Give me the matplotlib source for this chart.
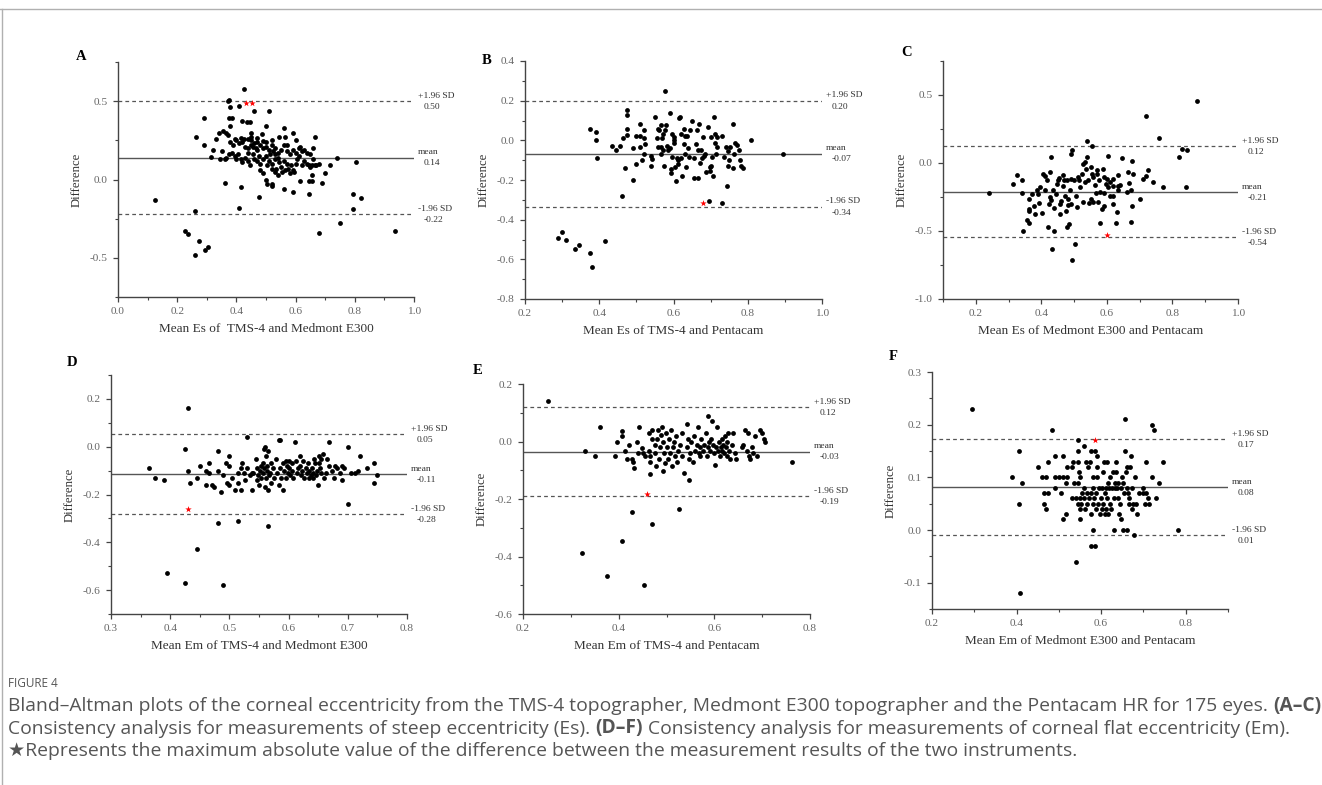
import matplotlib
matplotlib.use('Agg')
import matplotlib.pyplot as plt
from matplotlib.lines import Line2D
from matplotlib.ticker import MultipleLocator, FormatStrFormatter

plt.rcParams['font.family'] = ['Liberation Serif', 'DejaVu Serif']
plt.rcParams['axes.unicode_minus'] = True

W, H = 1322, 785

# ---------------- data ----------------
# A: Es, TMS-4 vs Medmont E300
a_pts = [(0.125, -0.13), (0.26, -0.20), (0.225, -0.33), (0.235, -0.35), (0.275, -0.39),
         (0.26, -0.48), (0.295, -0.45), (0.305, -0.43), (0.36, -0.02), (0.41, -0.18),
         (0.415, -0.05), (0.475, -0.11), (0.68, -0.34), (0.75, -0.28), (0.795, -0.19),
         (0.795, -0.09), (0.82, -0.12), (0.935, -0.33), (0.805, 0.11), (0.74, 0.14),
         (0.70, 0.04), (0.715, 0.09), (0.69, -0.02), (0.645, -0.09), (0.59, -0.08),
         (0.56, -0.06), (0.615, -0.01), (0.645, -0.01), (0.655, -0.01), (0.52, -0.04),
         (0.52, -0.03), (0.505, -0.03), (0.50, 0.00), (0.49, 0.04),
         (0.425, 0.575), (0.37, 0.50), (0.375, 0.51), (0.38, 0.46), (0.41, 0.47), (0.46, 0.44),
         (0.51, 0.44), (0.29, 0.39), (0.375, 0.39), (0.385, 0.39), (0.42, 0.375), (0.435, 0.37),
         (0.445, 0.37), (0.38, 0.34), (0.50, 0.34), (0.56, 0.33), (0.355, 0.31), (0.34, 0.30),
         (0.365, 0.30), (0.37, 0.285), (0.59, 0.30), (0.45, 0.30), (0.485, 0.29), (0.265, 0.27),
         (0.33, 0.26), (0.395, 0.26), (0.415, 0.265), (0.425, 0.26), (0.45, 0.27), (0.47, 0.265),
         (0.49, 0.245), (0.52, 0.255), (0.545, 0.27), (0.565, 0.27), (0.60, 0.255), (0.665, 0.27),
         (0.29, 0.22), (0.32, 0.19), (0.35, 0.18), (0.315, 0.145), (0.345, 0.13),
         (0.38, 0.24), (0.39, 0.22), (0.40, 0.25), (0.41, 0.23), (0.42, 0.24), (0.43, 0.21),
         (0.44, 0.20), (0.45, 0.22), (0.455, 0.21), (0.46, 0.23), (0.465, 0.20), (0.47, 0.19),
         (0.48, 0.22), (0.49, 0.20), (0.50, 0.21), (0.51, 0.19), (0.52, 0.22), (0.525, 0.18),
         (0.53, 0.20), (0.54, 0.17), (0.55, 0.19), (0.56, 0.22), (0.57, 0.18), (0.58, 0.16),
         (0.59, 0.19), (0.60, 0.17), (0.61, 0.20), (0.615, 0.21), (0.62, 0.18), (0.63, 0.19),
         (0.64, 0.17), (0.65, 0.16), (0.66, 0.20), (0.375, 0.16), (0.385, 0.17), (0.395, 0.15),
         (0.405, 0.16), (0.415, 0.13), (0.42, 0.11), (0.43, 0.14), (0.44, 0.12), (0.445, 0.09),
         (0.455, 0.16), (0.46, 0.13), (0.47, 0.12), (0.475, 0.15), (0.48, 0.10), (0.49, 0.13),
         (0.50, 0.15), (0.505, 0.09), (0.51, 0.12), (0.515, 0.16), (0.52, 0.10), (0.53, 0.13),
         (0.535, 0.07), (0.54, 0.14), (0.545, 0.11), (0.55, 0.08), (0.555, 0.05), (0.56, 0.12),
         (0.565, 0.06), (0.57, 0.10), (0.575, 0.07), (0.58, 0.04), (0.585, 0.09), (0.59, 0.06),
         (0.595, 0.05), (0.60, 0.10), (0.605, 0.13), (0.61, 0.15), (0.62, 0.09), (0.63, 0.12),
         (0.64, 0.10), (0.645, 0.09), (0.65, 0.08), (0.655, 0.09), (0.66, 0.13), (0.665, 0.09),
         (0.67, 0.09), (0.68, 0.10), (0.655, 0.03), (0.54, 0.03), (0.53, 0.05), (0.52, 0.07),
         (0.40, 0.13), (0.36, 0.13), (0.365, 0.14), (0.47, 0.24), (0.50, 0.24), (0.44, 0.26),
         (0.45, 0.25), (0.53, 0.16), (0.57, 0.22), (0.48, 0.06), (0.44, 0.17)]
a_star = [(0.434, 0.488), (0.454, 0.488)]
a_lines = [0.50, 0.14, -0.22]
a_vals = ['0.50', '0.14', '-0.22']

# B: Es, TMS-4 vs Pentacam
b_pts = [(0.578, 0.25), (0.30, -0.46), (0.29, -0.49), (0.31, -0.50), (0.336, -0.547),
         (0.346, -0.53), (0.375, -0.567), (0.38, -0.637), (0.416, -0.507), (0.46, -0.28),
         (0.49, -0.20), (0.47, -0.14), (0.395, -0.09), (0.39, 0.0), (0.39, 0.04), (0.375, 0.055),
         (0.435, -0.03), (0.445, -0.05), (0.455, -0.03), (0.465, 0.01), (0.475, 0.025),
         (0.475, 0.055), (0.475, 0.13), (0.475, 0.153), (0.49, -0.037), (0.50, 0.02), (0.50, -0.12),
         (0.51, 0.08), (0.51, 0.02), (0.51, -0.033), (0.515, -0.10), (0.52, -0.067), (0.52, 0.013),
         (0.52, 0.053), (0.523, -0.02), (0.54, -0.127), (0.54, -0.077), (0.543, -0.093),
         (0.55, 0.12), (0.555, 0.013), (0.557, 0.057), (0.557, -0.033), (0.56, 0.05),
         (0.565, 0.077), (0.566, -0.07), (0.567, -0.033), (0.569, 0.01), (0.573, 0.033),
         (0.575, -0.13), (0.58, 0.077), (0.582, -0.03), (0.59, 0.14), (0.59, -0.04),
         (0.592, -0.143), (0.594, -0.167), (0.596, -0.083), (0.597, 0.033), (0.60, 0.003),
         (0.602, -0.012), (0.603, -0.133), (0.606, -0.203), (0.609, -0.088), (0.611, -0.117),
         (0.616, 0.112), (0.618, 0.12), (0.62, 0.03), (0.621, -0.088), (0.623, -0.178),
         (0.627, -0.017), (0.63, 0.02), (0.632, -0.067), (0.634, -0.133), (0.636, 0.023),
         (0.64, -0.037), (0.643, -0.083), (0.65, 0.10), (0.654, -0.09), (0.656, -0.188),
         (0.66, -0.017), (0.664, 0.05), (0.666, -0.188), (0.667, -0.05), (0.67, 0.08),
         (0.672, -0.113), (0.674, -0.047), (0.676, -0.09), (0.68, 0.017), (0.683, -0.078),
         (0.685, -0.067), (0.688, -0.16), (0.693, 0.065), (0.695, -0.307), (0.697, -0.133),
         (0.699, -0.153), (0.70, 0.017), (0.702, -0.13), (0.705, -0.083), (0.707, -0.178),
         (0.71, 0.12), (0.711, -0.013), (0.713, 0.033), (0.715, -0.07), (0.717, -0.033),
         (0.718, 0.017), (0.73, -0.317), (0.731, 0.02), (0.735, -0.083), (0.742, -0.033),
         (0.744, -0.228), (0.746, -0.127), (0.748, -0.053), (0.75, -0.10), (0.753, -0.033),
         (0.759, 0.08), (0.76, -0.14), (0.764, -0.07), (0.767, -0.012), (0.771, -0.025),
         (0.776, -0.05), (0.78, -0.10), (0.783, -0.127), (0.787, -0.14), (0.81, 0.0),
         (0.895, -0.07), (0.571, -0.047), (0.577, 0.05), (0.586, -0.05), (0.60, 0.017),
         (0.613, -0.10), (0.627, 0.057), (0.645, 0.05)]
b_star = [(0.68, -0.317)]
b_lines = [0.20, -0.067, -0.335]
b_vals = ['0.20', '-0.07', '-0.34']

# C: Es, Medmont E300 vs Pentacam
c_pts = [(0.875, 0.458), (0.72, 0.345), (0.76, 0.185), (0.83, 0.103), (0.845, 0.094),
         (0.82, 0.044), (0.84, -0.18), (0.77, -0.18), (0.74, -0.138), (0.725, -0.05),
         (0.72, -0.094), (0.71, -0.118), (0.70, -0.264), (0.678, 0.017), (0.675, -0.20),
         (0.676, -0.315), (0.675, -0.433), (0.68, -0.079), (0.663, -0.069), (0.667, -0.148),
         (0.645, 0.034), (0.633, -0.089), (0.634, -0.17), (0.633, -0.20), (0.627, -0.438),
         (0.63, -0.36), (0.62, -0.30), (0.62, -0.24), (0.604, 0.052), (0.61, -0.14),
         (0.603, -0.18), (0.598, -0.153), (0.589, -0.042), (0.59, -0.222), (0.585, -0.34),
         (0.58, -0.443), (0.577, -0.123), (0.569, -0.049), (0.574, -0.288), (0.567, -0.222),
         (0.558, -0.103), (0.554, -0.079), (0.554, 0.123), (0.539, 0.16), (0.54, 0.044),
         (0.536, -0.042), (0.533, -0.14), (0.528, -0.005), (0.524, -0.079), (0.516, -0.128),
         (0.51, -0.325), (0.503, -0.596), (0.494, -0.714), (0.49, 0.069), (0.495, 0.094),
         (0.492, -0.12), (0.486, -0.20), (0.482, -0.264), (0.477, -0.473), (0.483, -0.448),
         (0.472, -0.239), (0.474, -0.35), (0.465, -0.172), (0.461, -0.276), (0.457, -0.374),
         (0.455, -0.108), (0.447, -0.153), (0.444, -0.227), (0.44, -0.33), (0.438, -0.50),
         (0.434, -0.636), (0.429, 0.044), (0.426, -0.064), (0.426, -0.251), (0.423, -0.30),
         (0.421, -0.468), (0.411, -0.20), (0.412, -0.099), (0.406, -0.079), (0.401, -0.367),
         (0.396, -0.177), (0.392, -0.296), (0.382, -0.374), (0.391, -0.227), (0.372, -0.227),
         (0.363, -0.264), (0.362, -0.337), (0.361, -0.35), (0.355, -0.419), (0.363, -0.438),
         (0.345, -0.498), (0.34, -0.123), (0.325, -0.089), (0.315, -0.153), (0.34, -0.222),
         (0.239, -0.222), (0.528, -0.288), (0.518, -0.177), (0.506, -0.239), (0.543, -0.128),
         (0.55, -0.264), (0.565, -0.165), (0.58, -0.214), (0.59, -0.313), (0.61, -0.239),
         (0.533, 0.007), (0.513, -0.103), (0.467, -0.091), (0.477, -0.128), (0.452, -0.128),
         (0.417, -0.128), (0.437, -0.20), (0.386, -0.20), (0.378, -0.313), (0.457, -0.30),
         (0.492, -0.30), (0.545, -0.296), (0.558, -0.288), (0.60, -0.116), (0.62, -0.116),
         (0.64, -0.165), (0.66, -0.214), (0.50, -0.128), (0.47, -0.128), (0.48, -0.31),
         (0.43, -0.27), (0.57, -0.08), (0.59, -0.10), (0.62, -0.17), (0.55, -0.03)]
c_star = [(0.60, -0.527)]
c_lines = [0.126, -0.214, -0.547]
c_vals = ['0.12', '-0.21', '-0.54']

# D: Em, TMS-4 vs Medmont E300
d_pts = [(0.43, 0.16), (0.425, -0.01), (0.43, -0.10), (0.364, -0.09), (0.375, -0.13),
         (0.39, -0.14), (0.434, -0.15), (0.445, -0.13), (0.45, -0.08), (0.46, -0.10),
         (0.465, -0.07), (0.46, -0.16), (0.47, -0.16), (0.474, -0.17), (0.465, -0.11),
         (0.48, -0.02), (0.48, -0.10), (0.485, -0.19), (0.49, -0.12), (0.495, -0.07),
         (0.50, -0.04), (0.50, -0.16), (0.496, -0.15), (0.50, -0.08), (0.505, -0.13),
         (0.51, -0.18), (0.514, -0.11), (0.515, -0.15), (0.519, -0.18), (0.519, -0.09),
         (0.522, -0.07), (0.526, -0.14), (0.524, -0.11), (0.53, 0.04), (0.529, -0.09),
         (0.534, -0.12), (0.538, -0.18), (0.538, -0.11), (0.54, -0.11), (0.545, -0.05),
         (0.546, -0.09), (0.547, -0.14), (0.549, -0.12), (0.55, -0.16), (0.552, -0.10),
         (0.553, -0.08), (0.554, -0.13), (0.556, -0.07), (0.557, -0.11), (0.559, -0.01),
         (0.559, -0.09), (0.56, -0.17), (0.561, -0.04), (0.562, -0.13), (0.563, -0.10),
         (0.564, -0.08), (0.565, -0.18), (0.566, -0.02), (0.567, -0.12), (0.569, -0.11),
         (0.57, -0.07), (0.571, -0.15), (0.574, -0.09), (0.576, -0.13), (0.578, -0.05),
         (0.58, -0.11), (0.583, -0.16), (0.586, -0.09), (0.584, 0.03), (0.587, -0.13),
         (0.59, -0.18), (0.591, -0.07), (0.593, -0.10), (0.595, -0.06), (0.596, -0.13),
         (0.597, -0.08), (0.599, -0.11), (0.60, -0.06), (0.601, -0.09), (0.603, -0.12),
         (0.605, -0.07), (0.606, -0.10), (0.608, -0.13), (0.61, 0.02), (0.612, -0.06),
         (0.614, -0.11), (0.616, -0.09), (0.619, -0.08), (0.62, -0.04), (0.621, -0.12),
         (0.622, -0.10), (0.624, -0.06), (0.626, -0.13), (0.629, -0.09), (0.631, -0.11),
         (0.633, -0.07), (0.634, -0.13), (0.635, -0.10), (0.638, -0.12), (0.64, -0.09),
         (0.641, -0.13), (0.642, -0.11), (0.643, -0.05), (0.645, -0.07), (0.647, -0.12),
         (0.648, -0.10), (0.65, -0.16), (0.651, -0.07), (0.652, -0.04), (0.653, -0.09),
         (0.654, -0.05), (0.655, -0.11), (0.658, -0.03), (0.66, -0.13), (0.664, -0.11),
         (0.665, -0.05), (0.668, 0.02), (0.669, -0.08), (0.673, -0.10), (0.676, -0.13),
         (0.678, -0.08), (0.682, -0.09), (0.686, -0.11), (0.69, -0.08), (0.69, -0.14),
         (0.693, -0.09), (0.70, 0.0), (0.70, -0.24), (0.705, -0.11), (0.713, -0.11),
         (0.718, -0.10), (0.72, -0.04), (0.733, -0.09), (0.745, -0.07), (0.745, -0.15),
         (0.75, -0.12), (0.48, -0.32), (0.515, -0.31), (0.565, -0.33), (0.445, -0.43),
         (0.395, -0.53), (0.425, -0.57), (0.49, -0.58), (0.56, 0.0), (0.585, 0.03)]
d_star = [(0.43, -0.26)]
d_lines = [0.053, -0.115, -0.283]
d_vals = ['0.05', '-0.11', '-0.28']

# E: Em, TMS-4 vs Pentacam
e_pts = [(0.252, 0.14), (0.329, -0.032), (0.35, -0.052), (0.36, 0.05), (0.392, -0.052),
         (0.397, 0.0), (0.407, 0.038), (0.407, 0.019), (0.413, -0.032), (0.417, -0.061),
         (0.422, -0.012), (0.427, -0.061), (0.431, -0.072), (0.432, -0.092), (0.439, 0.0),
         (0.44, -0.041), (0.443, 0.05), (0.448, -0.021), (0.451, -0.041), (0.455, -0.052),
         (0.464, 0.03), (0.464, -0.032), (0.465, -0.052), (0.466, -0.073), (0.465, -0.112),
         (0.469, 0.01), (0.47, 0.04), (0.476, -0.011), (0.476, -0.041), (0.479, -0.084),
         (0.481, 0.01), (0.483, 0.04), (0.485, -0.061), (0.486, -0.02), (0.488, 0.021),
         (0.49, 0.05), (0.492, 0.0), (0.493, -0.103), (0.495, -0.041), (0.496, -0.075),
         (0.499, 0.03), (0.50, -0.02), (0.503, -0.061), (0.506, 0.01), (0.507, -0.041),
         (0.51, 0.04), (0.512, -0.084), (0.514, -0.02), (0.515, 0.0), (0.517, -0.052),
         (0.52, 0.02), (0.521, -0.071), (0.524, -0.032), (0.528, -0.011), (0.532, 0.03),
         (0.533, -0.052), (0.536, -0.111), (0.542, 0.061), (0.543, -0.02), (0.545, 0.01),
         (0.547, -0.061), (0.549, -0.041), (0.547, -0.133), (0.552, 0.0), (0.556, -0.072),
         (0.558, 0.02), (0.559, -0.032), (0.563, -0.011), (0.565, 0.05), (0.567, -0.041),
         (0.57, -0.02), (0.571, -0.052), (0.573, 0.01), (0.577, -0.032), (0.579, -0.011),
         (0.582, 0.03), (0.584, -0.052), (0.586, -0.02), (0.587, 0.09), (0.589, 0.0),
         (0.591, -0.032), (0.594, 0.01), (0.596, 0.07), (0.598, -0.011), (0.60, -0.041),
         (0.601, -0.083), (0.603, -0.02), (0.606, 0.05), (0.608, -0.032), (0.61, 0.0),
         (0.612, -0.052), (0.613, -0.02), (0.615, 0.01), (0.617, -0.032), (0.619, -0.011),
         (0.621, -0.041), (0.623, 0.02), (0.624, -0.02), (0.626, -0.052), (0.627, 0.0),
         (0.629, 0.03), (0.631, -0.032), (0.633, -0.061), (0.636, -0.011), (0.64, 0.03),
         (0.643, -0.041), (0.645, -0.061), (0.657, -0.02), (0.66, -0.011), (0.664, 0.04),
         (0.668, -0.032), (0.67, 0.03), (0.672, -0.052), (0.675, -0.061), (0.678, -0.02),
         (0.68, -0.041), (0.685, 0.02), (0.69, -0.052), (0.695, 0.04), (0.70, 0.03),
         (0.703, 0.01), (0.706, 0.0), (0.762, -0.072), (0.427, -0.244), (0.469, -0.286),
         (0.526, -0.235), (0.407, -0.346), (0.324, -0.388), (0.376, -0.468), (0.454, -0.499)]
e_star = [(0.46, -0.182)]
e_lines = [0.12, -0.035, -0.19]
e_vals = ['0.12', '-0.03', '-0.19']

# F: Em, Medmont E300 vs Pentacam
f_pts = [(0.294, 0.23), (0.405, 0.15), (0.389, 0.10), (0.414, 0.09), (0.405, 0.05),
         (0.45, 0.12), (0.46, 0.10), (0.47, 0.10), (0.475, 0.13), (0.464, 0.07), (0.475, 0.07),
         (0.464, 0.05), (0.47, 0.04), (0.484, 0.19), (0.49, 0.10), (0.49, 0.08), (0.49, 0.14),
         (0.50, 0.10), (0.505, 0.07), (0.51, 0.10), (0.51, 0.14), (0.51, 0.02), (0.516, 0.03),
         (0.516, 0.09), (0.52, 0.10), (0.52, 0.12), (0.53, 0.12), (0.53, 0.06), (0.534, 0.13),
         (0.536, 0.09), (0.54, 0.06), (0.54, -0.06), (0.545, 0.17), (0.545, 0.13), (0.545, 0.15),
         (0.545, 0.09), (0.545, 0.05), (0.547, 0.11), (0.549, 0.06), (0.55, 0.10), (0.55, 0.02),
         (0.551, 0.04), (0.553, 0.05), (0.555, 0.07), (0.56, 0.06), (0.56, 0.08), (0.561, 0.04),
         (0.56, 0.16), (0.565, 0.13), (0.566, 0.05), (0.567, 0.07), (0.57, 0.12), (0.571, 0.06),
         (0.574, 0.13), (0.575, 0.07), (0.575, 0.03), (0.577, 0.15), (0.577, -0.03), (0.58, 0.05),
         (0.58, 0.10), (0.58, 0.0), (0.581, 0.08), (0.583, 0.06), (0.585, 0.15), (0.585, -0.03),
         (0.587, 0.04), (0.588, 0.07), (0.59, 0.10), (0.59, 0.12), (0.591, 0.14), (0.593, 0.05),
         (0.594, 0.08), (0.597, 0.03), (0.60, 0.06), (0.601, 0.04), (0.602, 0.08), (0.604, 0.05),
         (0.605, 0.11), (0.607, 0.13), (0.609, 0.03), (0.61, 0.07), (0.611, 0.08), (0.612, 0.04),
         (0.613, 0.06), (0.615, 0.13), (0.616, 0.03), (0.617, 0.09), (0.618, 0.08), (0.62, 0.10),
         (0.621, 0.05), (0.623, 0.04), (0.625, 0.08), (0.628, 0.11), (0.63, 0.06), (0.631, 0.0),
         (0.632, 0.08), (0.633, 0.09), (0.635, 0.13), (0.636, 0.11), (0.637, 0.08), (0.639, 0.06),
         (0.64, 0.09), (0.643, 0.03), (0.645, 0.05), (0.647, 0.08), (0.648, 0.02), (0.65, 0.10),
         (0.651, 0.0), (0.652, 0.09), (0.655, 0.07), (0.656, 0.21), (0.657, 0.15), (0.659, 0.11),
         (0.66, 0.0), (0.661, 0.08), (0.662, 0.12), (0.664, 0.07), (0.665, 0.05), (0.667, 0.06),
         (0.668, 0.12), (0.67, 0.14), (0.672, 0.04), (0.674, 0.08), (0.675, 0.05), (0.677, -0.01),
         (0.68, 0.10), (0.683, 0.05), (0.685, 0.03), (0.69, 0.07), (0.698, 0.07), (0.70, 0.08),
         (0.704, 0.05), (0.705, 0.13), (0.706, 0.07), (0.71, 0.06), (0.713, 0.05), (0.72, 0.10),
         (0.72, 0.20), (0.726, 0.19), (0.73, 0.06), (0.736, 0.09), (0.747, 0.13), (0.782, 0.0),
         (0.407, -0.12)]
f_star = [(0.586, 0.17)]
f_lines = [0.173, 0.081, -0.01]
f_vals = ['0.17', '0.08', '0.01']

xlabels = ['Mean Es of  TMS-4 and Medmont E300', 'Mean Es of TMS-4 and Pentacam',
           'Mean Es of Medmont E300 and Pentacam', 'Mean Em of TMS-4 and Medmont E300',
           'Mean Em of TMS-4 and Pentacam', 'Mean Em of Medmont E300 and Pentacam']

caption_title = 'FIGURE 4'
caption_lines = [
    [('Bland\u2013Altman plots of the corneal eccentricity from the TMS-4 topographer, Medmont E300 '
      'topographer and the Pentacam HR for 175 eyes.', 'normal'), ('(A\u2013C)', 'bold')],
    [('Consistency analysis for measurements of steep eccentricity (Es).', 'normal'),
     ('(D\u2013F)', 'bold'),
     ('Consistency analysis for measurements of corneal flat eccentricity (Em).', 'normal')],
    [('\u2605Represents the maximum absolute value of the difference between the measurement '
      'results of the two instruments.', 'normal')],
]

fig = plt.figure(figsize=(W / 100, H / 100), dpi=100)


def px_rect(left, top, right, bottom):
    return [left / W, 1 - bottom / H, (right - left) / W, (bottom - top) / H]


def panel(rect, letter, letter_xy, pts, star, lines, vals, xlim, ylim, xmaj, ymaj, ymin, xlabel):
    ax = fig.add_axes(rect)
    xs = [p[0] for p in pts]
    ys = [p[1] for p in pts]
    ax.scatter(xs, ys, s=12, c='black', linewidths=0, zorder=3)
    ax.scatter([p[0] for p in star], [p[1] for p in star], s=24, c='red', marker='*',
               linewidths=0, zorder=4)
    up, mean, low = lines
    ax.axhline(mean, color='#555555', lw=1.0, zorder=2)
    ax.axhline(up, color='#555555', lw=0.9, ls=(0, (3, 2.5)), zorder=2)
    ax.axhline(low, color='#555555', lw=0.9, ls=(0, (3, 2.5)), zorder=2)
    tr = ax.get_yaxis_transform()
    pairs = [('+1.96 SD', vals[0], up), ('mean', vals[1], mean), ('-1.96 SD', vals[2], low)]
    for top, bot, v in pairs:
        ax.annotate(top, xy=(1.0, v), xycoords=tr, xytext=(3, 3.8), textcoords='offset points',
                    fontsize=6.8, color='#333333', va='center', ha='left', annotation_clip=False)
        ax.annotate(bot, xy=(1.0, v), xycoords=tr, xytext=(7, -4.2), textcoords='offset points',
                    fontsize=6.8, color='#333333', va='center', ha='left', annotation_clip=False)
    ax.set_xlim(*xlim)
    ax.set_ylim(*ylim)
    ax.xaxis.set_major_locator(MultipleLocator(xmaj))
    ax.xaxis.set_minor_locator(MultipleLocator(xmaj / 2))
    ax.yaxis.set_major_locator(MultipleLocator(ymaj))
    ax.yaxis.set_minor_locator(MultipleLocator(ymin))
    ax.xaxis.set_major_formatter(FormatStrFormatter('%.1f'))
    ax.yaxis.set_major_formatter(FormatStrFormatter('%.1f'))
    for s in ('top', 'right'):
        ax.spines[s].set_visible(False)
    for s in ('left', 'bottom'):
        ax.spines[s].set_color('#444444')
        ax.spines[s].set_linewidth(1.0)
    ax.tick_params(which='major', direction='out', length=3.5, width=0.9, colors='#444444',
                   labelsize=8.2, labelcolor='#666666', pad=4)
    ax.tick_params(which='minor', direction='out', length=2, width=0.8, colors='#444444')
    ax.set_ylabel('Difference', fontsize=9.2, color='#333333', labelpad=5)
    ax.set_xlabel(xlabel, fontsize=9.5, color='#333333', labelpad=5)
    fig.text(letter_xy[0] / W, 1 - letter_xy[1] / H, letter, fontsize=10.5, fontweight='bold',
             ha='center', va='center')
    return ax


panel(px_rect(118, 62, 414, 297), 'A', (81, 56), a_pts, a_star, a_lines, a_vals,
      (0.0, 1.0), (-0.75, 0.75), 0.2, 0.5, 0.25, xlabels[0])
panel(px_rect(525, 61, 822, 299), 'B', (487, 60), b_pts, b_star, b_lines, b_vals,
      (0.2, 1.0), (-0.8, 0.4), 0.2, 0.2, 0.1, xlabels[1])
panel(px_rect(943, 61, 1238, 299), 'C', (907, 53), c_pts, c_star, c_lines, c_vals,
      (0.1, 1.0), (-1.0, 0.75), 0.2, 0.5, 0.25, xlabels[2])
panel(px_rect(111, 375, 407, 614), 'D', (72, 362), d_pts, d_star, d_lines, d_vals,
      (0.3, 0.8), (-0.7, 0.3), 0.1, 0.2, 0.1, xlabels[3])
panel(px_rect(523, 384, 810, 614), 'E', (478, 370), e_pts, e_star, e_lines, e_vals,
      (0.2, 0.8), (-0.6, 0.2), 0.2, 0.2, 0.1, xlabels[4])
panel(px_rect(932, 372, 1228, 609), 'F', (893, 356), f_pts, f_star, f_lines, f_vals,
      (0.2, 0.9), (-0.15, 0.3), 0.2, 0.1, 0.05, xlabels[5])

# frame lines of the figure box
fig.add_artist(Line2D([0, 1], [1 - 9 / H, 1 - 9 / H], color='#b0b0b0', lw=1.0,
                      transform=fig.transFigure))
fig.add_artist(Line2D([2 / W, 2 / W], [0, 1 - 9 / H], color='#b0b0b0', lw=1.0,
                      transform=fig.transFigure))

# caption
cap_color = '#555555'
cap_family = ['Open Sans', 'DejaVu Sans']
fig.text(8 / W, 1 - 687 / H, caption_title, fontsize=8.5, color=cap_color, family=cap_family,
         va='baseline')

renderer = fig.canvas.get_renderer()


def width_px(s, size, weight):
    t = fig.text(0, 0, s, fontsize=size, fontweight=weight, family=cap_family)
    w = t.get_window_extent(renderer=renderer).width
    t.remove()
    return w


# pick the size so the first line spans the same width as in the figure
probe = 10.0
first = caption_lines[0]
gap = width_px('a a', probe, 'normal') - width_px('aa', probe, 'normal')
total = sum(width_px(s, probe, w) for s, w in first) + gap * (len(first) - 1)
cap_size = probe * 1308 / total
gap = width_px('a a', cap_size, 'normal') - width_px('aa', cap_size, 'normal')

for i, parts in enumerate(caption_lines):
    x = 8
    y = 711 + i * 22.5
    for s, w in parts:
        t = fig.text(x / W, 1 - y / H, s, fontsize=cap_size, fontweight=w, color=cap_color,
                     family=cap_family, va='baseline')
        x += t.get_window_extent(renderer=renderer).width + gap

fig.savefig('out.png', dpi=100)
